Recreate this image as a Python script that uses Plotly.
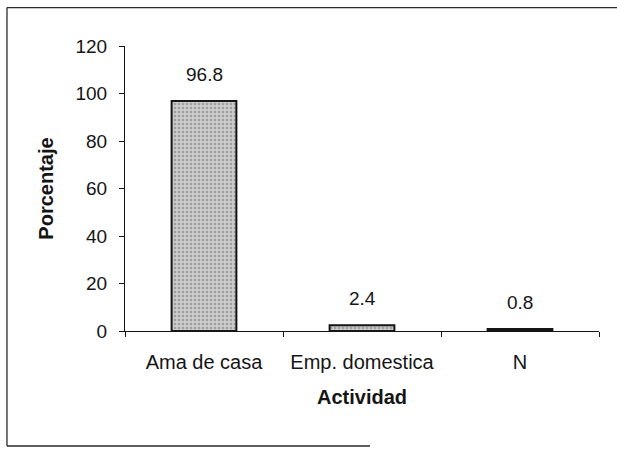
import plotly.graph_objects as go

categories = ["Ama de casa", "Emp. domestica", "N"]
values = [96.8, 2.4, 0.8]
value_labels = ["96.8", "2.4", "0.8"]
y_ticks = [0, 20, 40, 60, 80, 100, 120]

FONT = "Arial, Liberation Sans, sans-serif"
INK = "#151515"

fig = go.Figure()
fig.add_trace(go.Bar(
    x=categories, y=values,
    marker=dict(
        color="#cdcdcd",
        line=dict(color=INK, width=2),
        pattern=dict(shape=".", fgcolor="#6e6e6e", size=4, solidity=0.35),
    ),
    width=0.41,
    hoverinfo="skip",
))

for c, v, t in zip(categories, values, value_labels):
    fig.add_annotation(x=c, y=v, text=t, showarrow=False, yanchor="bottom",
                       yshift=14, font=dict(family=FONT, size=19, color=INK))

# outer frame lines (paper coords)
line_style = dict(color="#2a2a2a", width=1.3)
fig.add_shape(type="line", xref="paper", yref="paper", x0=-0.249, x1=1.04, y0=1.135, y1=1.135, line=line_style)
fig.add_shape(type="line", xref="paper", yref="paper", x0=-0.249, x1=-0.249, y0=1.135, y1=-0.4035, line=line_style)
fig.add_shape(type="line", xref="paper", yref="paper", x0=-0.249, x1=0.517, y0=-0.4035, y1=-0.4035, line=line_style)

fig.update_layout(
    width=617, height=449,
    margin=dict(l=125, r=18, t=46, b=118),
    paper_bgcolor="white", plot_bgcolor="white",
    showlegend=False,
    font=dict(family=FONT, size=19, color=INK),
    xaxis=dict(
        showline=True, linecolor=INK, linewidth=1.2,
        ticks="outside", tickson="boundaries", ticklen=5, tickcolor=INK,
        ticklabelstandoff=13,
        tickfont=dict(family=FONT, size=20, color=INK),
        title=dict(text="<b>Actividad</b>", font=dict(family=FONT, size=20, color=INK), standoff=17),
        showgrid=False,
    ),
    yaxis=dict(
        range=[0, 120], tickvals=y_ticks,
        showline=True, linecolor=INK, linewidth=1.2,
        ticks="outside", ticklen=5, tickcolor=INK,
        ticklabelstandoff=8,
        tickfont=dict(family=FONT, size=19, color=INK),
        title=dict(text="<b>Porcentaje</b>", font=dict(family=FONT, size=20, color=INK), standoff=16),
        showgrid=False, zeroline=False,
    ),
)

fig.write_html("out.html", config={"displayModeBar": False},
               post_script="document.body.style.margin='0px';")
